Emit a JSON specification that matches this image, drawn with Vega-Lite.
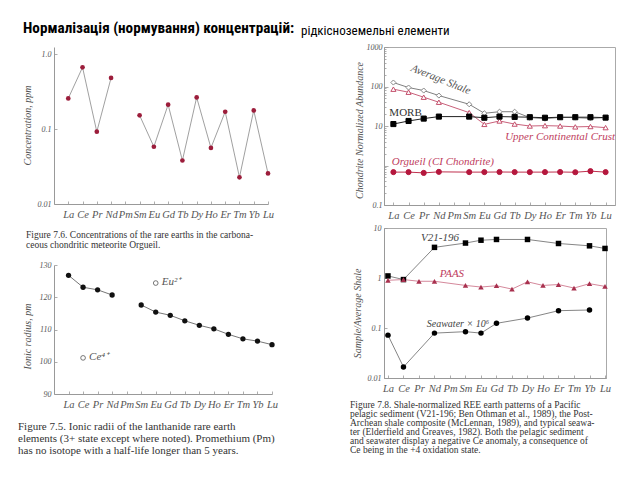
{
  "$schema": "https://vega.github.io/schema/vega-lite/v6.json",
  "background": "white",
  "padding": {"left": 18, "top": 20, "right": 0, "bottom": 0},
  "config": {
    "view": {"stroke": null},
    "axis": {"domainColor": "#999", "tickColor": "#999", "labelFont": "Liberation Serif", "labelFontStyle": "italic", "labelColor": "#555", "titleFont": "Liberation Serif", "titleFontStyle": "italic", "titleFontWeight": "normal", "titleColor": "#555", "grid": false, "domainWidth": 1, "tickWidth": 0.8},
    "axisX": {"labelFontSize": 10.5, "labelAngle": 0, "tickSize": -3, "labelPadding": 8},
    "axisY": {"labelFontSize": 8, "tickSize": -3, "labelPadding": 6}
  },
  "datasets": {
    "p1": [
      {"el": "La", "ppm": 0.256}, {"el": "Ce", "ppm": 0.664}, {"el": "Pr", "ppm": 0.092}, {"el": "Nd", "ppm": 0.48},
      {"el": "Pm", "ppm": null}, {"el": "Sm", "ppm": 0.152}, {"el": "Eu", "ppm": 0.058}, {"el": "Gd", "ppm": 0.211},
      {"el": "Tb", "ppm": 0.038}, {"el": "Dy", "ppm": 0.264}, {"el": "Ho", "ppm": 0.056}, {"el": "Er", "ppm": 0.17},
      {"el": "Tm", "ppm": 0.0227}, {"el": "Yb", "ppm": 0.177}, {"el": "Lu", "ppm": 0.0256}
    ],
    "p2": [
      {"el": "La", "r": 126.8}, {"el": "Ce", "r": 123.1}, {"el": "Pr", "r": 122.3}, {"el": "Nd", "r": 120.7},
      {"el": "Pm", "r": null}, {"el": "Sm", "r": 117.6}, {"el": "Eu", "r": 115.4}, {"el": "Gd", "r": 114.4},
      {"el": "Tb", "r": 112.7}, {"el": "Dy", "r": 111.3}, {"el": "Ho", "r": 110.2}, {"el": "Er", "r": 108.5},
      {"el": "Tm", "r": 107.1}, {"el": "Yb", "r": 106.4}, {"el": "Lu", "r": 105.3}
    ],
    "p2ions": [
      {"el": "Eu", "r": 124.4, "label": "Eu²⁺"},
      {"el": "Ce", "r": 101.2, "label": "Ce⁴⁺"}
    ],
    "p3": [
      {"series": "Average Shale", "el": "La", "v": 126}, {"series": "Average Shale", "el": "Ce", "v": 94}, {"series": "Average Shale", "el": "Pr", "v": 79}, {"series": "Average Shale", "el": "Nd", "v": 59}, {"series": "Average Shale", "el": "Sm", "v": 35.5}, {"series": "Average Shale", "el": "Eu", "v": 21}, {"series": "Average Shale", "el": "Gd", "v": 23}, {"series": "Average Shale", "el": "Tb", "v": 23}, {"series": "Average Shale", "el": "Dy", "v": 16.3}, {"series": "Average Shale", "el": "Ho", "v": 15.3}, {"series": "Average Shale", "el": "Er", "v": 16.5}, {"series": "Average Shale", "el": "Tm", "v": 16.3}, {"series": "Average Shale", "el": "Yb", "v": 15.6}, {"series": "Average Shale", "el": "Lu", "v": 16.3},
      {"series": "Upper Continental Crust", "el": "La", "v": 85.5}, {"series": "Upper Continental Crust", "el": "Ce", "v": 71.7}, {"series": "Upper Continental Crust", "el": "Pr", "v": 53.6}, {"series": "Upper Continental Crust", "el": "Nd", "v": 40}, {"series": "Upper Continental Crust", "el": "Sm", "v": 21.8}, {"series": "Upper Continental Crust", "el": "Eu", "v": 11}, {"series": "Upper Continental Crust", "el": "Gd", "v": 13.4}, {"series": "Upper Continental Crust", "el": "Tb", "v": 11.2}, {"series": "Upper Continental Crust", "el": "Dy", "v": 10}, {"series": "Upper Continental Crust", "el": "Ho", "v": 10.2}, {"series": "Upper Continental Crust", "el": "Er", "v": 10}, {"series": "Upper Continental Crust", "el": "Tm", "v": 9.5}, {"series": "Upper Continental Crust", "el": "Yb", "v": 9.7}, {"series": "Upper Continental Crust", "el": "Lu", "v": 9.1},
      {"series": "MORB", "el": "La", "v": 11.2}, {"series": "MORB", "el": "Ce", "v": 13.4}, {"series": "MORB", "el": "Pr", "v": 15.4}, {"series": "MORB", "el": "Nd", "v": 17.3}, {"series": "MORB", "el": "Sm", "v": 17.3}, {"series": "MORB", "el": "Eu", "v": 16.2}, {"series": "MORB", "el": "Gd", "v": 17.3}, {"series": "MORB", "el": "Tb", "v": 17}, {"series": "MORB", "el": "Dy", "v": 16.7}, {"series": "MORB", "el": "Ho", "v": 16.2}, {"series": "MORB", "el": "Er", "v": 16.7}, {"series": "MORB", "el": "Tm", "v": 16.7}, {"series": "MORB", "el": "Yb", "v": 16.7}, {"series": "MORB", "el": "Lu", "v": 16.3},
      {"series": "Orgueil", "el": "La", "v": 0.68}, {"series": "Orgueil", "el": "Ce", "v": 0.68}, {"series": "Orgueil", "el": "Pr", "v": 0.65}, {"series": "Orgueil", "el": "Nd", "v": 0.69}, {"series": "Orgueil", "el": "Sm", "v": 0.68}, {"series": "Orgueil", "el": "Eu", "v": 0.68}, {"series": "Orgueil", "el": "Gd", "v": 0.685}, {"series": "Orgueil", "el": "Tb", "v": 0.68}, {"series": "Orgueil", "el": "Dy", "v": 0.68}, {"series": "Orgueil", "el": "Ho", "v": 0.68}, {"series": "Orgueil", "el": "Er", "v": 0.685}, {"series": "Orgueil", "el": "Tm", "v": 0.675}, {"series": "Orgueil", "el": "Yb", "v": 0.72}, {"series": "Orgueil", "el": "Lu", "v": 0.68}
    ],
    "p3lab": [
      {"el": "Nd", "v": 155, "label": "Average Shale"},
      {"el": "Ce", "v": 21.3, "label": "MORB"},
      {"el": "Er", "v": 5.27, "label": "Upper Continental Crust"},
      {"el": "Nd", "v": 1.23, "label": "Orgueil (CI Chondrite)"}
    ],
    "p4": [
      {"series": "V21-196", "el": "La", "v": 1.1}, {"series": "V21-196", "el": "Ce", "v": 0.93}, {"series": "V21-196", "el": "Nd", "v": 4.1}, {"series": "V21-196", "el": "Sm", "v": 5.0}, {"series": "V21-196", "el": "Eu", "v": 5.7}, {"series": "V21-196", "el": "Gd", "v": 5.9}, {"series": "V21-196", "el": "Dy", "v": 5.9}, {"series": "V21-196", "el": "Er", "v": 4.9}, {"series": "V21-196", "el": "Yb", "v": 4.4}, {"series": "V21-196", "el": "Lu", "v": 3.9},
      {"series": "PAAS", "el": "La", "v": 0.9}, {"series": "PAAS", "el": "Ce", "v": 0.93}, {"series": "PAAS", "el": "Pr", "v": 0.86}, {"series": "PAAS", "el": "Nd", "v": 0.86}, {"series": "PAAS", "el": "Sm", "v": 0.71}, {"series": "PAAS", "el": "Eu", "v": 0.66}, {"series": "PAAS", "el": "Gd", "v": 0.7}, {"series": "PAAS", "el": "Tb", "v": 0.6}, {"series": "PAAS", "el": "Dy", "v": 0.84}, {"series": "PAAS", "el": "Ho", "v": 0.71}, {"series": "PAAS", "el": "Er", "v": 0.74}, {"series": "PAAS", "el": "Tm", "v": 0.63}, {"series": "PAAS", "el": "Yb", "v": 0.77}, {"series": "PAAS", "el": "Lu", "v": 0.68},
      {"series": "Seawater", "el": "La", "v": 0.072}, {"series": "Seawater", "el": "Ce", "v": 0.0166}, {"series": "Seawater", "el": "Nd", "v": 0.079}, {"series": "Seawater", "el": "Sm", "v": 0.0845}, {"series": "Seawater", "el": "Eu", "v": 0.079}, {"series": "Seawater", "el": "Gd", "v": 0.124}, {"series": "Seawater", "el": "Dy", "v": 0.158}, {"series": "Seawater", "el": "Er", "v": 0.222}, {"series": "Seawater", "el": "Yb", "v": 0.229}
    ],
    "p4lab": [
      {"el": "Nd", "v": 6.3, "label": "V21-196"},
      {"el": "Pm", "v": 1.2, "label": "PAAS"},
      {"el": "Sm", "v": 0.12, "label": "Seawater × 10⁶"}
    ]
  },
  "hconcat": [
    {
      "title": {"text": "Нормалізація (нормування) концентрацій:", "anchor": "start", "frame": "group", "dx": -31, "offset": -1, "baseline": "alphabetic", "font": "Liberation Sans Narrow, Arial Narrow, Roboto Condensed, Roboto, sans-serif", "fontSize": 15.2, "fontWeight": "bold", "color": "#000"},
      "spacing": 61,
      "bounds": "flush",
      "vconcat": [
        {
          "width": 214, "height": 157,
          "data": {"name": "p1"},
          "title": {"text": ["Figure 7.6.  Concentrations of the rare earths in the carbona-", "ceous chondritic meteorite Orgueil."], "orient": "bottom", "anchor": "start", "frame": "group", "dx": -28, "offset": 10, "font": "Liberation Serif", "fontSize": 9.5, "fontWeight": "normal", "lineHeight": 10.5, "color": "#333"},
          "encoding": {
            "x": {"field": "el", "type": "ordinal", "scale": {"type": "point", "domain": ["La","Ce","Pr","Nd","Pm","Sm","Eu","Gd","Tb","Dy","Ho","Er","Tm","Yb","Lu"], "padding": 0.5, "align": 1}, "axis": {"title": null}},
            "y": {"field": "ppm", "type": "quantitative", "scale": {"type": "log", "domain": [0.01, 1.24], "nice": false}, "axis": {"title": "Concentration, ppm", "values": [0.01, 0.1, 1], "labelExpr": "datum.value == 1 ? '1.0' : datum.label", "titleX": -27, "titleY": 78, "titleBaseline": "middle", "titleFontSize": 10}}
          },
          "layer": [
            {"mark": {"type": "line", "color": "#888", "strokeWidth": 0.8}, "encoding": {"order": {"value": null}}},
            {"mark": {"type": "point", "shape": "circle", "filled": true, "color": "#9c1d3b", "size": 22, "opacity": 1}}
          ]
        },
        {
          "width": 218, "height": 129,
          "title": {"text": ["Figure 7.5.   Ionic radii of the lanthanide rare earth", "elements (3+ state except where noted).  Promethium (Pm)", "has no isotope with a half-life longer than 5 years."], "orient": "bottom", "anchor": "start", "frame": "group", "dx": -36, "offset": 11, "font": "Liberation Serif", "fontSize": 11, "fontWeight": "normal", "lineHeight": 12, "color": "#333"},
          "encoding": {
            "x": {"field": "el", "type": "ordinal", "scale": {"type": "point", "domain": ["La","Ce","Pr","Nd","Pm","Sm","Eu","Gd","Tb","Dy","Ho","Er","Tm","Yb","Lu"], "padding": 0.5, "align": 1}, "axis": {"title": null}},
            "y": {"field": "r", "type": "quantitative", "scale": {"domain": [90, 130], "nice": false, "zero": false}, "axis": {"title": "Ionic radius, pm", "values": [90, 100, 110, 120, 130], "titleX": -27, "titleY": 71, "titleBaseline": "middle", "titleFontSize": 10}}
          },
          "layer": [
            {"data": {"name": "p2"}, "mark": {"type": "line", "color": "#666", "strokeWidth": 0.9}, "encoding": {"order": {"value": null}}},
            {"data": {"name": "p2"}, "mark": {"type": "point", "shape": "circle", "filled": true, "color": "#111", "size": 28, "opacity": 1}},
            {"data": {"name": "p2ions"}, "mark": {"type": "point", "shape": "circle", "filled": false, "color": "#555", "strokeWidth": 0.8, "size": 22, "opacity": 1}},
            {"data": {"name": "p2ions"}, "mark": {"type": "text", "align": "left", "dx": 6, "dy": -1, "font": "Liberation Serif", "fontStyle": "italic", "fontSize": 11, "color": "#555"}, "encoding": {"text": {"field": "label"}}}
          ]
        }
      ]
    },
    {
      "title": {"text": "рідкісноземельні елементи", "anchor": "start", "frame": "group", "dx": -83, "dy": 0.5, "offset": -5, "baseline": "alphabetic", "font": "Liberation Sans Narrow, Arial Narrow, Roboto Condensed, Roboto, sans-serif", "fontSize": 13, "fontWeight": "normal", "color": "#000"},
      "spacing": 23,
      "bounds": "flush",
      "resolve": {"scale": {"color": "independent", "shape": "independent", "fill": "independent", "stroke": "independent"}},
      "vconcat": [
        {
          "width": 231, "height": 158,
          "view": {"stroke": "#aaa", "strokeWidth": 1},
          "encoding": {
            "x": {"field": "el", "type": "ordinal", "scale": {"type": "point", "domain": ["La","Ce","Pr","Nd","Pm","Sm","Eu","Gd","Tb","Dy","Ho","Er","Tm","Yb","Lu"], "padding": 0.62, "align": 0.5}, "axis": {"title": null}},
            "y": {"field": "v", "type": "quantitative", "scale": {"type": "log", "domain": [0.1, 1000], "nice": false}, "axis": {"title": "Chondrite Normalized Abundance", "values": [0.1,0.2,0.3,0.4,0.5,0.6,0.7,0.8,0.9,1,2,3,4,5,6,7,8,9,10,20,30,40,50,60,70,80,90,100,200,300,400,500,600,700,800,900,1000], "format": "~g", "labelExpr": "indexof([0.1,10,100,1000], datum.value) >= 0 ? datum.label : ''", "tickSize": {"condition": {"test": "indexof([0.1,1,10,100,1000], datum.value) >= 0", "value": -4}, "value": -2}, "titleX": -25, "titleY": 83, "titleBaseline": "middle", "titleFontSize": 10}}
          },
          "layer": [
            {"data": {"name": "p3"}, "mark": {"type": "line", "strokeWidth": 1}, "encoding": {"order": {"value": null}, "stroke": {"field": "series", "type": "nominal", "scale": {"domain": ["Average Shale","Upper Continental Crust","MORB","Orgueil"], "range": ["#808080","#c9607a","#222222","#c0304e"]}, "legend": null}, "strokeWidth": {"field": "series", "type": "nominal", "scale": {"domain": ["Average Shale","Upper Continental Crust","MORB","Orgueil"], "range": [1.6, 0.9, 1, 0.9]}, "legend": null}}},
            {"data": {"name": "p3"}, "mark": {"type": "point", "filled": false, "strokeWidth": 1, "size": 26, "opacity": 1}, "encoding": {
              "shape": {"field": "series", "type": "nominal", "scale": {"domain": ["Average Shale","Upper Continental Crust","MORB","Orgueil"], "range": ["diamond","triangle-up","square","circle"]}, "legend": null},
              "color": {"field": "series", "type": "nominal", "scale": {"domain": ["Average Shale","Upper Continental Crust","MORB","Orgueil"], "range": ["#888888","#c4506c","#000000","#b5173d"]}, "legend": null},
              "fill": {"field": "series", "type": "nominal", "scale": {"domain": ["Average Shale","Upper Continental Crust","MORB","Orgueil"], "range": ["#ffffff","#ffffff","#000000","#b5173d"]}, "legend": null}
            }},
            {"data": {"name": "p3lab"}, "transform": [{"filter": "datum.label == 'Average Shale'"}], "mark": {"type": "text", "angle": 22, "dx": 2, "font": "Liberation Serif", "fontStyle": "italic", "fontSize": 11, "color": "#555"}, "encoding": {"text": {"field": "label"}}},
            {"data": {"name": "p3lab"}, "transform": [{"filter": "datum.label == 'MORB'"}], "mark": {"type": "text", "dx": -3, "font": "Liberation Serif", "fontSize": 11, "color": "#333"}, "encoding": {"text": {"field": "label"}}},
            {"data": {"name": "p3lab"}, "transform": [{"filter": "datum.label == 'Upper Continental Crust'"}], "mark": {"type": "text", "font": "Liberation Serif", "fontStyle": "italic", "fontSize": 11, "color": "#c0405e"}, "encoding": {"text": {"field": "label"}}},
            {"data": {"name": "p3lab"}, "transform": [{"filter": "datum.label == 'Orgueil (CI Chondrite)'"}], "mark": {"type": "text", "dx": 4, "font": "Liberation Serif", "fontStyle": "italic", "fontSize": 11, "color": "#c0405e"}, "encoding": {"text": {"field": "label"}}}
          ]
        },
        {
          "width": 222, "height": 150,
          "view": {"stroke": "#aaa", "strokeWidth": 1},
          "title": {"text": ["Figure 7.8.  Shale-normalized REE earth patterns of a Pacific", "pelagic sediment (V21-196; Ben Othman et al., 1989), the Post-", "Archean shale composite (McLennan, 1989), and typical seawa-", "ter (Elderfield and Greaves, 1982).  Both the pelagic sediment", "and seawater display a negative Ce anomaly, a consequence of", "Ce being in the +4 oxidation state."], "orient": "bottom", "anchor": "start", "frame": "group", "dx": -34, "offset": 6, "font": "Liberation Serif", "fontSize": 9.5, "fontWeight": "normal", "lineHeight": 9, "color": "#333"},
          "encoding": {
            "x": {"field": "el", "type": "ordinal", "scale": {"type": "point", "domain": ["La","Ce","Pr","Nd","Pm","Sm","Eu","Gd","Tb","Dy","Ho","Er","Tm","Yb","Lu"], "padding": 0.16, "align": 0.8}, "axis": {"title": null}},
            "y": {"field": "v", "type": "quantitative", "scale": {"type": "log", "domain": [0.01, 10], "nice": false}, "axis": {"title": "Sample/Average Shale", "values": [0.01, 0.1, 1, 10], "format": "~g", "titleX": -27, "titleY": 85, "titleBaseline": "middle", "titleFontSize": 10}}
          },
          "layer": [
            {"data": {"name": "p4"}, "mark": {"type": "line", "strokeWidth": 0.9}, "encoding": {"order": {"value": null}, "stroke": {"field": "series", "type": "nominal", "scale": {"domain": ["V21-196","PAAS","Seawater"], "range": ["#777777","#cf7a90","#777777"]}, "legend": null}}},
            {"data": {"name": "p4"}, "mark": {"type": "point", "filled": true, "size": 30, "opacity": 1}, "encoding": {
              "shape": {"field": "series", "type": "nominal", "scale": {"domain": ["V21-196","PAAS","Seawater"], "range": ["square","triangle-up","circle"]}, "legend": null},
              "color": {"field": "series", "type": "nominal", "scale": {"domain": ["V21-196","PAAS","Seawater"], "range": ["#000000","#a8304e","#000000"]}, "legend": null}
            }},
            {"data": {"name": "p4lab"}, "transform": [{"filter": "datum.label == 'V21-196'"}], "mark": {"type": "text", "dx": 5.5, "font": "Liberation Serif", "fontStyle": "italic", "fontSize": 11, "color": "#444"}, "encoding": {"text": {"field": "label"}}},
            {"data": {"name": "p4lab"}, "transform": [{"filter": "datum.label == 'PAAS'"}], "mark": {"type": "text", "dx": 2, "font": "Liberation Serif", "fontStyle": "italic", "fontSize": 11, "color": "#c0405e"}, "encoding": {"text": {"field": "label"}}},
            {"data": {"name": "p4lab"}, "transform": [{"filter": "datum.label == 'Seawater × 10⁶'"}], "mark": {"type": "text", "dx": -7.5, "font": "Liberation Serif", "fontStyle": "italic", "fontSize": 10, "color": "#444"}, "encoding": {"text": {"field": "label"}}}
          ]
        }
      ]
    }
  ],
  "resolve": {"scale": {"color": "independent", "shape": "independent", "fill": "independent", "stroke": "independent", "strokeWidth": "independent"}},
  "spacing": 6
}
